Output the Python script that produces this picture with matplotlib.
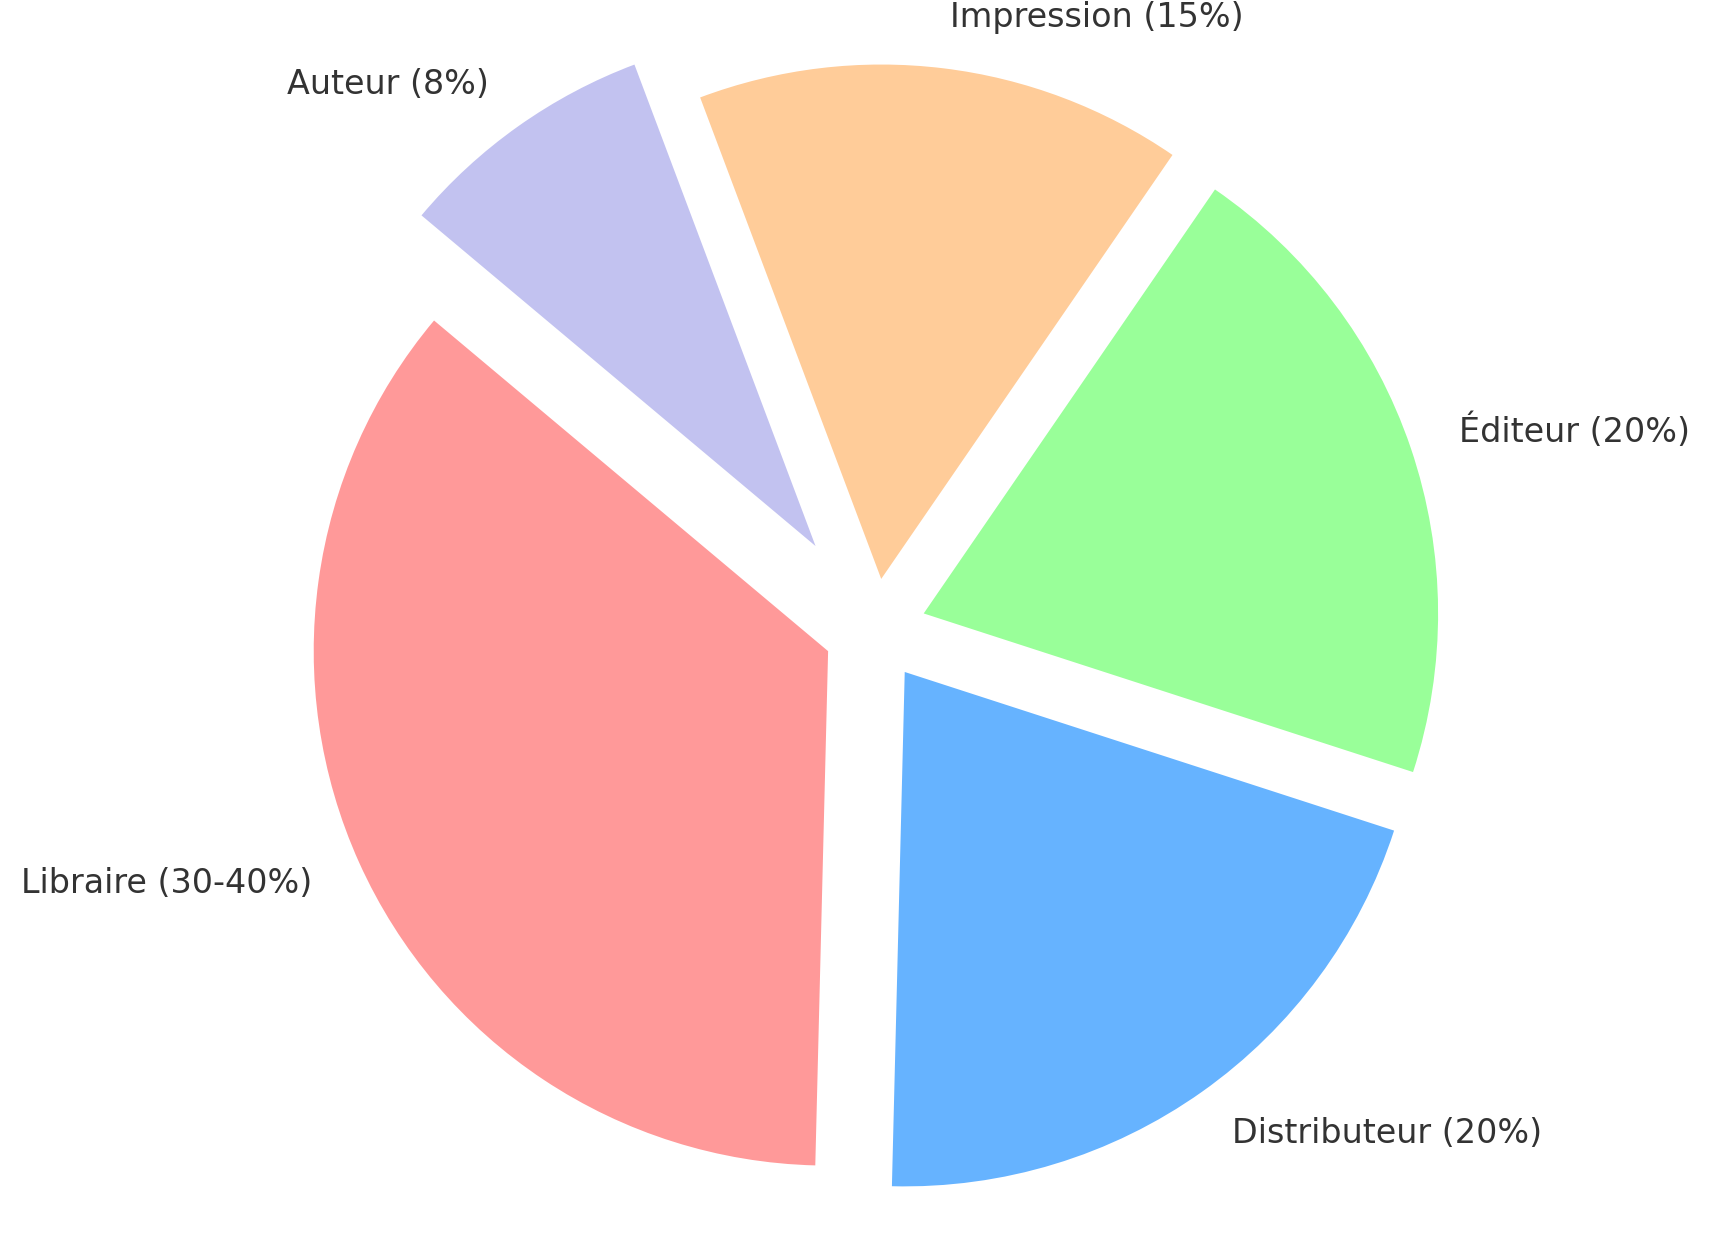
import matplotlib.pyplot as plt

# Répartition du prix d'un livre
labels = ['Libraire (30-40%)', 'Distributeur (20%)', 'Éditeur (20%)', 'Impression (15%)', 'Auteur (8%)']
sizes = [35, 20, 20, 15, 8]
colors = ['#ff9999', '#66b3ff', '#99ff99', '#ffcc99', '#c2c2f0']
explode = [0.1, 0.1, 0.1, 0.1, 0.2]

fig = plt.figure(figsize=(8.56, 6.3), dpi=200)
# axes carré en pixels, centré sur le camembert
w = 1286 / 1712
h = 1286 / 1260
cx = 875 / 1712
cy = (1260 - 630) / 1260
ax = fig.add_axes([cx - w / 2, cy - h / 2, w, h])

ax.pie(sizes, labels=labels, colors=colors, explode=explode, startangle=140,
       textprops={'fontsize': 12, 'color': '#333333'})
ax.set_aspect('equal')

fig.savefig('out.png', dpi=200)
